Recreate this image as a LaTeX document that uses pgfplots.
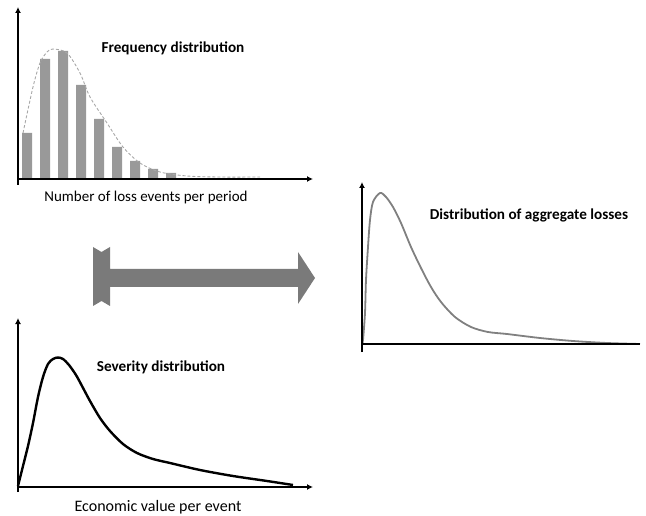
\documentclass[border=0pt]{standalone}
\usepackage{pgfplots}
\pgfplotsset{compat=1.18}
\usepackage{fontspec}
\setmainfont{Carlito}
\usetikzlibrary{arrows.meta}
\definecolor{arrowgray}{HTML}{7A7A7A}
\definecolor{bargray}{HTML}{999999}
\definecolor{aggray}{HTML}{808080}
\definecolor{dashgray}{HTML}{A8A8A8}
\begin{document}
\begin{tikzpicture}[x=1pt,y=1pt]
\useasboundingbox (0,0) rectangle (646,515);
\pgfplotsset{diag/.style={scale only axis, axis lines=none, clip=false, anchor=south west,
  xmin=0, ymin=0, enlargelimits=false}}
\tikzset{ax/.style={line width=1.8pt, black, -{Latex[length=6pt,width=6pt]}}}
% Frequency distribution
\begin{axis}[diag, at={(18,336)}, width=295pt, height=172pt, xmax=295, ymax=172]
\addplot[ybar, bar width=10, fill=bargray, draw=none] coordinates {
 (9,46) (27,120) (45,128) (63,94) (81,60) (99,32) (117,18) (135,10) (153,6)};
\addplot[dashgray, densely dashed, line width=0.9pt, smooth] coordinates {
 (5,46) (15,92) (22,116) (29,127) (35,130) (49,126) (62,106) (72,82) (89,56) (105,32) (122,16) (142,7) (169,3) (200,2) (242,2)};
\draw[ax] (axis cs:0,-6) -- (axis cs:0,172);
\draw[ax] (axis cs:-1,0) -- (axis cs:295,0);
\node[font=\bfseries\fontsize{15.2}{17}\selectfont] at (axis cs:155,131) {Frequency distribution};
\node[font=\fontsize{15}{17}\selectfont] at (axis cs:128,-19) {Number of loss events per period};
\end{axis}
% Severity distribution
\begin{axis}[diag, at={(18,28)}, width=295pt, height=169pt, xmax=295, ymax=169]
\addplot[black, line width=2.4pt, smooth] coordinates {
 (0,1) (5,21) (10,41) (15,64) (20,90) (25,110) (30,123) (35,128) (40,129.5) (45,128) (51,122) (58,112) (64,101) (72,86) (82,69) (92,56) (105,43) (119,34) (135,28) (152,24) (182,17) (215,11) (249,6) (275,2)};
\draw[ax] (axis cs:0,-5) -- (axis cs:0,169);
\draw[ax] (axis cs:-1,0) -- (axis cs:295,0);
\node[font=\bfseries\fontsize{15.2}{17}\selectfont] at (axis cs:143,120) {Severity distribution};
\node[font=\fontsize{16}{18}\selectfont] at (axis cs:140,-20) {Economic value per event};
\end{axis}
% Aggregate losses
\begin{axis}[diag, at={(362,171)}, width=278pt, height=162pt, xmax=278, ymax=162]
\addplot[aggray, line width=1.8pt, smooth] coordinates {
 (0,0) (1,4) (3,31) (4,64) (6,97) (8,124) (11,142) (18,151) (24,147) (31,137) (39,121) (49,97) (59,76) (69,57) (79,42) (93,27) (109,17) (126,12) (145,10) (178,6) (211,3) (245,1) (278,0)};
\draw[ax] (axis cs:0,-8) -- (axis cs:0,162);
\draw[line width=1.8pt, black] (axis cs:-1,0) -- (axis cs:278,0);
\node[font=\bfseries\fontsize{15.2}{17}\selectfont] at (axis cs:167,129) {Distribution of aggregate losses};
\end{axis}
% Big arrow
\fill[arrowgray] (93,268) -- (101.5,263) -- (110,268) -- (110,246) -- (298,246) -- (298,263) -- (315,237) -- (298,211) -- (298,228) -- (110,228) -- (110,209) -- (101.5,214) -- (93,209) -- cycle;
\end{tikzpicture}
\end{document}
